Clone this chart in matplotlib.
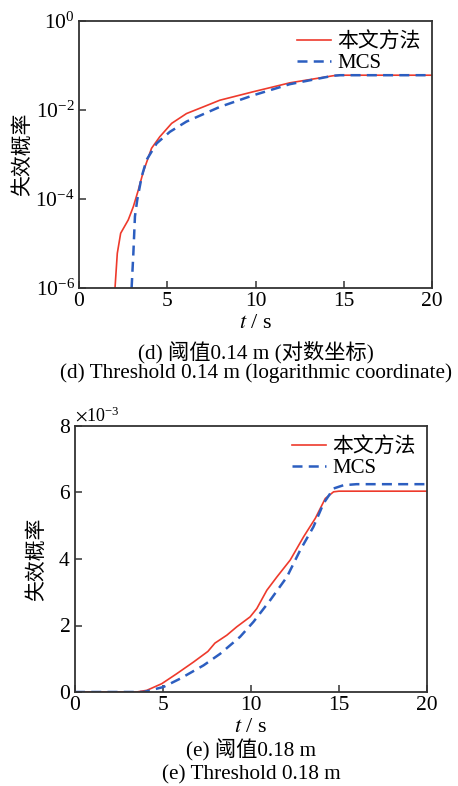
import matplotlib
matplotlib.use("Agg")
import matplotlib.pyplot as plt
from matplotlib.ticker import ScalarFormatter, FixedLocator, NullLocator

plt.rcParams["font.family"] = ["Liberation Serif", "Noto Sans CJK SC"]
plt.rcParams["mathtext.fontset"] = "stix"
plt.rcParams["axes.unicode_minus"] = False

# (d) threshold 0.14 m, failure probability on log scale
t_d_prop = [2.04, 2.17, 2.36, 2.79, 3.08, 3.36, 3.64, 4.11, 4.58, 5.25, 6.09,
            7.04, 7.98, 9.87, 11.94, 14.4, 14.8, 20.0]
log_pf_d_prop = [-6.0, -5.22, -4.77, -4.47, -4.17, -3.80, -3.39, -2.86, -2.60,
                 -2.30, -2.08, -1.93, -1.78, -1.59, -1.39, -1.23, -1.218, -1.218]
t_d_mcs = [2.98, 3.08, 3.17, 3.30, 3.55, 3.83, 4.40, 5.15, 6.09, 7.98, 9.87,
           11.94, 14.4, 14.8, 20.0]
log_pf_d_mcs = [-6.0, -5.22, -4.39, -4.02, -3.50, -3.12, -2.75, -2.49, -2.26,
                -1.93, -1.67, -1.42, -1.23, -1.218, -1.218]

# (e) threshold 0.18 m, failure probability (x1e-3)
t_e_prop = [0.0, 3.5, 4.08, 4.93, 5.78, 6.73, 7.55, 7.95, 8.63, 9.19, 9.95,
            10.33, 10.9, 11.47, 12.23, 12.99, 13.65, 14.22, 14.69, 15.0, 20.0]
pf_e_prop = [0.0, 0.0, 0.05, 0.25, 0.55, 0.90, 1.22, 1.47, 1.71, 1.96, 2.26,
             2.51, 3.06, 3.46, 3.97, 4.67, 5.22, 5.82, 6.02, 6.04, 6.04]
t_e_mcs = [0.0, 3.9, 5.02, 5.97, 7.30, 8.25, 9.38, 10.14, 11.09, 12.04, 12.8,
           13.55, 14.12, 14.69, 15.26, 16.0, 20.0]
pf_e_mcs = [0.0, 0.0, 0.15, 0.40, 0.80, 1.15, 1.66, 2.11, 2.76, 3.46, 4.27,
            4.97, 5.67, 6.12, 6.22, 6.25, 6.25]

series_labels = ["本文方法", "MCS"]
x_ticks = [0, 5, 10, 15, 20]
red = "#ee3a2c"
blue = "#2c5ec0"
spine_col = "#333333"

W, H = 458, 786
fig = plt.figure(figsize=(W / 100, H / 100), dpi=100)


def box(l, r, t, b):
    return [l / W, 1 - b / H, (r - l) / W, (b - t) / H]


def style(ax, ylabel_x):
    for s in ax.spines.values():
        s.set_color(spine_col)
        s.set_linewidth(1.3)
    ax.tick_params(direction="in", length=5, width=1.1, color=spine_col,
                   labelsize=15.5, pad=3, top=False, right=False)
    ax.set_xlim(0, 20)
    ax.set_xticks(x_ticks)
    ax.set_ylabel("失效概率", fontsize=15)
    ax.yaxis.set_label_coords(ylabel_x, 0.5)


def add_legend(ax):
    ax.legend(loc="upper right", frameon=False, fontsize=15,
              handlelength=1.6, handletextpad=0.3, borderaxespad=0.15,
              labelspacing=0.05)


def captions(ax, rows):
    pos = ax.get_position()
    xc = (pos.x0 + pos.x1) / 2
    for y_px, txt, size in rows:
        fig.text(xc, 1 - y_px / H, txt, ha="center", va="center",
                 fontsize=size)


# top panel
ax1 = fig.add_axes(box(79, 432, 21, 288))
ax1.plot(t_d_prop, [10 ** v for v in log_pf_d_prop], color=red, lw=1.2,
         label=series_labels[0])
ax1.plot(t_d_mcs, [10 ** v for v in log_pf_d_mcs], color=blue, lw=1.8,
         ls=(0, (4, 2.5)), label=series_labels[1])
ax1.set_yscale("log")
ax1.set_ylim(1e-6, 1)
ax1.yaxis.set_major_locator(FixedLocator([1e-6, 1e-4, 1e-2, 1]))
ax1.yaxis.set_minor_locator(NullLocator())
style(ax1, -0.130)
add_legend(ax1)
captions(ax1, [(323, r"$t$ / s", 16),
               (352, "(d) 阈值0.14 m (对数坐标)", 15.3),
               (373, "(d) Threshold 0.14 m (logarithmic coordinate)", 15.3)])

# bottom panel
ax2 = fig.add_axes(box(75, 427, 426, 692))
ax2.plot(t_e_prop, [v * 1e-3 for v in pf_e_prop], color=red, lw=1.2,
         label=series_labels[0])
ax2.plot(t_e_mcs, [v * 1e-3 for v in pf_e_mcs], color=blue, lw=1.8,
         ls=(0, (4, 2.5)), label=series_labels[1])
ax2.set_ylim(0, 8e-3)
ax2.set_yticks([0, 2e-3, 4e-3, 6e-3, 8e-3])
fmt = ScalarFormatter(useMathText=True)
fmt.set_powerlimits((0, 0))
ax2.yaxis.set_major_formatter(fmt)
ax2.yaxis.get_offset_text().set_fontsize(13)
style(ax2, -0.080)
add_legend(ax2)
captions(ax2, [(727, r"$t$ / s", 16),
               (750, "(e) 阈值0.18 m", 15.3),
               (775, "(e) Threshold 0.18 m", 15.3)])

fig.savefig("out.png", dpi=100)
